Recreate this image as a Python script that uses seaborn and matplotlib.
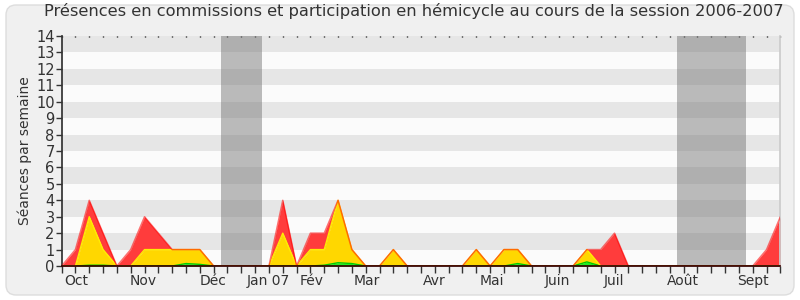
import numpy as np
import pandas as pd
import matplotlib
matplotlib.use("Agg")
import matplotlib.pyplot as plt
from matplotlib.patches import FancyBboxPatch
import seaborn as sns

# ---- data ----
weeks = list(range(53))
# green layer (bottom)
green = [0, 0, 0.05, 0.05, 0, 0, 0, 0, 0, 0.15, 0.1, 0, 0, 0, 0, 0, 0, 0,
         0, 0.05, 0.2, 0.15, 0, 0, 0, 0, 0, 0, 0, 0, 0, 0, 0, 0.15, 0, 0,
         0, 0, 0.25, 0, 0, 0, 0, 0, 0, 0, 0, 0, 0, 0, 0, 0, 0]
# top of yellow layer (cumulative)
yellow_top = [0, 0, 3, 1, 0, 0, 1, 1, 1, 1, 1, 0, 0, 0, 0, 0, 2, 0,
              1, 1, 4, 1, 0, 0, 1, 0, 0, 0, 0, 0, 1, 0, 1, 1, 0, 0,
              0, 0, 1, 0, 0, 0, 0, 0, 0, 0, 0, 0, 0, 0, 0, 0, 0]
# total (top of red layer)
total = [0, 1, 4, 2, 0, 1, 3, 2, 1, 1, 1, 0, 0, 0, 0, 0, 4, 0,
         2, 2, 4, 1, 0, 0, 1, 0, 0, 0, 0, 0, 1, 0, 1, 1, 0, 0,
         0, 0, 1, 1, 2, 0, 0, 0, 0, 0, 0, 0, 0, 0, 0, 1, 3]

month_labels = ["Oct", "Nov", "Déc", "Jan 07", "Fév", "Mar", "Avr", "Mai",
                "Juin", "Juil", "Août", "Sept"]
month_pos = [1.07, 5.92, 10.99, 14.93, 18.1, 22.1, 26.94, 31.14,
             35.88, 39.97, 44.96, 50.02]
vacations = [(11.5, 14.5), (44.5, 49.5)]

title = "Présences en commissions et participation en hémicycle au cours de la session 2006-2007"
ylabel = "Séances par semaine"

df = pd.DataFrame({"week": weeks, "green": green,
                   "yellow": yellow_top, "total": total})

sns.set_theme(style="white")
plt.rcParams["font.family"] = ["DejaVu Sans"]

fig = plt.figure(figsize=(8, 3), dpi=100, facecolor="white")
frame = FancyBboxPatch((0.06, 0.05), 7.88, 2.9,
                       boxstyle="round,pad=0,rounding_size=0.1",
                       transform=fig.dpi_scale_trans, facecolor="#f0f0f0",
                       edgecolor="#dddddd", lw=1, zorder=-5)
fig.patches.append(frame)

ax = fig.add_axes([0.077, 0.1133, 0.8985, 0.7667])
ax.set_zorder(1)
ax.set_facecolor("#fbfbfb")

# alternating horizontal bands
for y0 in range(1, 14, 2):
    ax.axhspan(y0, y0 + 1, color="#e6e6e6", lw=0, zorder=0)

# vacation bands
for a, b in vacations:
    ax.axvspan(a, b, color="#7a7a7a", alpha=0.5, lw=0, zorder=1)

ax.fill_between(df["week"], df["yellow"], df["total"], color="#ff3c3c", lw=0, zorder=2)
ax.fill_between(df["week"], df["green"], df["yellow"], color="#ffd700", lw=0, zorder=3)
ax.fill_between(df["week"], 0, df["green"], color="#22ee22", lw=0, zorder=4)

sns.lineplot(data=df, x="week", y="green", color="#00cc00", lw=1, ax=ax, zorder=5)
sns.lineplot(data=df, x="week", y="yellow", color="#ffee00", lw=1, ax=ax, zorder=6)
sns.lineplot(data=df, x="week", y="total", color="#ff0000", lw=1.1, alpha=0.55, ax=ax, zorder=7)

ax.set_xlim(0, 52)
ax.set_ylim(0, 14)

ax.set_xticks(month_pos)
ax.set_xticklabels(month_labels, fontsize=10, color="#333333")
ax.set_xticks(weeks, minor=True)
ax.tick_params(axis="x", which="major", length=0, pad=6)
ax.tick_params(axis="x", which="minor", bottom=True, top=False, length=5,
               width=1, color="#333333", direction="out")

# dotted week marks along the top edge
top = ax.secondary_xaxis("top")
top.set_xticks(weeks)
top.set_xticklabels([])
top.tick_params(axis="x", which="major", length=1, width=1, color="#000000",
                direction="in")
top.spines["top"].set_visible(False)

ax.set_yticks(range(0, 15))
ax.set_yticklabels([str(i) for i in range(15)], fontsize=10.5, color="#333333")
ax.tick_params(axis="y", which="major", left=True, length=4, width=1,
               color="#333333", direction="out", pad=1)

ax.set_xlabel("")
ax.set_ylabel(ylabel, fontsize=10, color="#333333", labelpad=3)

ax.spines["top"].set_visible(False)
ax.spines["right"].set_color("#cccccc")
ax.spines["left"].set_color("#333333")
ax.spines["bottom"].set_color("#330000")
ax.spines["bottom"].set_zorder(10)

fig.text(0.517, 0.962, title, ha="center", va="center", fontsize=11.7, color="#333333")

fig.savefig("out.png", dpi=100, facecolor=fig.get_facecolor())
